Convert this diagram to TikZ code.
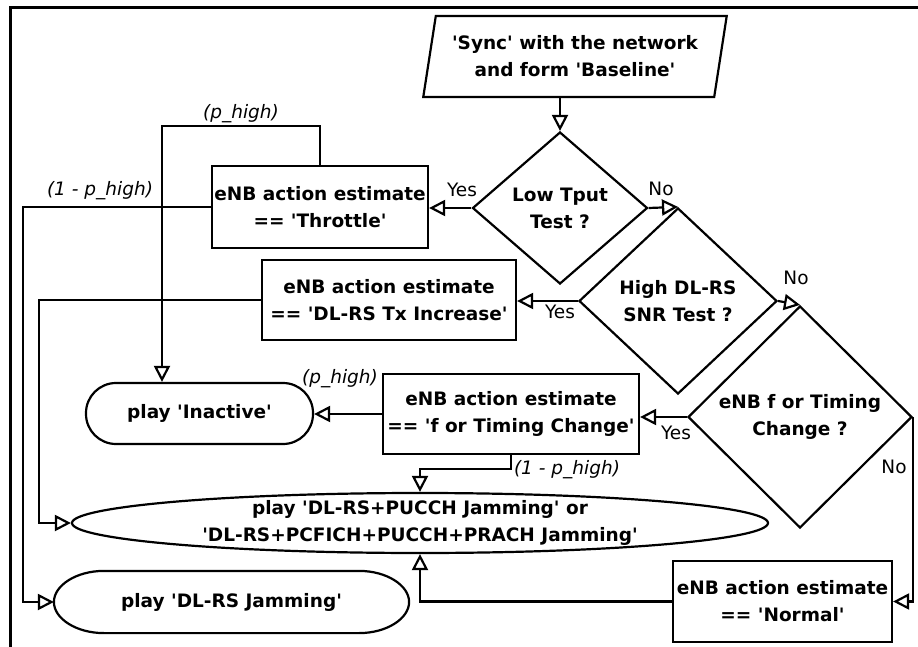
\documentclass[tikz,border=0pt]{standalone}
\usepackage{fontspec}
\setmainfont{DejaVu Sans}[Ligatures=TeXOff]
\usetikzlibrary{shapes.geometric,arrows.meta,calc}

\begin{document}
\begin{tikzpicture}[x=1pt,y=-1pt,
  line width=2.2pt,
  txt/.style={font=\fontsize{18.5}{27}\selectfont\bfseries, align=center, inner sep=0pt},
  box/.style={txt, draw, rectangle},
  test/.style={txt, draw, diamond},
  endcap/.style={txt, draw, rectangle, rounded corners=30pt},
  flow/.style={-{Triangle[open,length=16pt,width=16pt]}},
  branch/.style={font=\fontsize{18.5}{22}\selectfont, inner sep=0pt},
  prob/.style={font=\fontsize{18.5}{22}\selectfont\itshape, inner sep=0pt},
]
\useasboundingbox (0,0) rectangle (918,647);

% outer frame
\draw[line width=3pt] (10.5,647) -- (10.5,7.5) -- (918,7.5);

% start
\node[txt, draw, trapezium, trapezium left angle=75, trapezium right angle=105,
      trapezium stretches=true, minimum width=304pt, minimum height=81pt]
  (sync) at (575,56.5) {'Sync' with the network\\and form 'Baseline'};

% tests
\node[test, minimum width=175pt, minimum height=152pt] (d1) at (560,208) {Low Tput\\Test ?};
\node[test, minimum width=198pt, minimum height=186pt] (d2) at (678,301) {High DL-RS\\SNR Test ?};
\node[test, minimum width=224pt, minimum height=222pt] (d3) at (800,417) {eNB f or Timing\\Change ?};

% action estimates
\node[box, minimum width=216pt, minimum height=82pt] (throttle) at (320,207) {eNB action estimate\\== 'Throttle'};
\node[box, minimum width=254pt, minimum height=80pt] (txinc) at (389,300) {eNB action estimate\\== 'DL-RS Tx Increase'};
\node[box, minimum width=256pt, minimum height=80pt] (fbox) at (511,414) {eNB action estimate\\== 'f or Timing Change'};
\node[box, minimum width=219pt, minimum height=81pt] (normal) at (782.5,601.5) {eNB action estimate\\== 'Normal'};

% plays
\node[endcap, minimum width=227pt, minimum height=61pt] (inactive) at (199.5,413.5) {play 'Inactive'};
\node[txt, draw, ellipse, minimum width=696pt, minimum height=60pt] (big) at (420,523) {};
\node[txt] (bigtext) at (big.center) {play 'DL-RS+PUCCH Jamming' or\\'DL-RS+PCFICH+PUCCH+PRACH Jamming'};
\node[txt, rectangle, minimum width=353pt, minimum height=60pt] (dlrs) at (231.5,602) {play 'DL-RS Jamming'};
% outline with half-elliptic ends
\draw ($(dlrs.north west)+(50,0)$) -- ($(dlrs.north east)+(-50,0)$)
  .. controls +(27.6,0) and +(0,-16.6) .. (dlrs.east)
  .. controls +(0,16.6) and +(27.6,0) .. ($(dlrs.south east)+(-50,0)$)
  -- ($(dlrs.south west)+(50,0)$)
  .. controls +(-27.6,0) and +(0,16.6) .. (dlrs.west)
  .. controls +(0,-16.6) and +(-27.6,0) .. cycle;

% decisions
\draw[flow] (sync.south -| d1.north) -- (d1.north);
\draw[flow] (d1.west) -- (d1.west -| throttle.east);
\draw[flow] (d1.east) -- (d2.north);
\draw[flow] (d2.west) -- (d2.west -| txinc.east);
\draw[flow] (d2.east) -- (d3.north);
\draw[flow] (d3.west) -- (d3.west -| fbox.east);
\draw[flow] (d3.east) |- (normal.east);

\node[branch] (y1) at (462,190) {Yes};
\node[branch] (n1) at (661,189) {No};
\node[branch] (y2) at (560,312) {Yes};
\node[branch] (n2) at (796,278) {No};
\node[branch] (y3) at (676,433) {Yes};
\node[branch] (n3) at (894,467) {No};

% estimates to plays
\coordinate (phigh) at ($(inactive.north)+(-37.5,0)$);
\draw[flow] (throttle.north) -- ++(0,-39) -| (phigh);
\draw[flow] (throttle.west) -- ++(-188,0) |- (dlrs.west);
\draw[flow] (txinc.west) -- ++(-222,0) |- (big.west);
\draw[flow] (fbox.west) -- (fbox.west -| inactive.east);
\draw[flow] (fbox.south) -- ++(0,14) -| (big.north);
\draw[flow] (normal.west) -| (big.south);

\node[prob] (p1) at (241,114) {(p\_high)};
\node[prob] (q1) at (100,191) {(1 - p\_high)};
\node[prob] (p2) at (340,379) {(p\_high)};
\node[prob] (q2) at (567,470) {(1 - p\_high)};
\end{tikzpicture}
\end{document}
